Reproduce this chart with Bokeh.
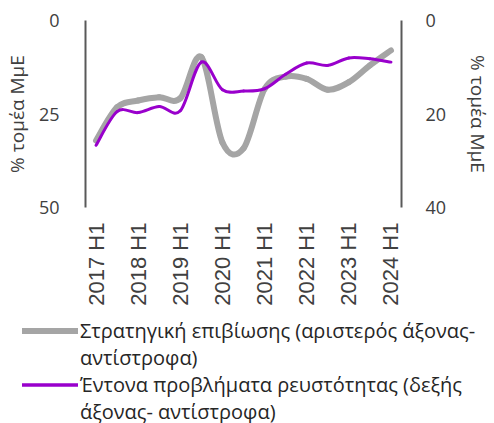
import numpy as np
from bokeh.plotting import figure
from bokeh.layouts import column
from bokeh.models import Range1d, LinearAxis, Legend, LegendItem, ColumnDataSource, FixedTicker
from bokeh.embed import file_html
from bokeh.resources import INLINE

periods = ["2017 H1", "2017 H2", "2018 H1", "2018 H2", "2019 H1", "2019 H2", "2020 H1", "2020 H2",
           "2021 H1", "2021 H2", "2022 H1", "2022 H2", "2023 H1", "2023 H2", "2024 H1"]
survival = [32.1, 23.2, 21.4, 20.5, 20.8, 9.8, 32.6, 34.2, 18.3, 15.0, 15.6, 18.5, 16.5, 12.0, 8.0]
liquidity = [26.7, 19.5, 19.7, 18.4, 19.3, 8.9, 14.8, 15.1, 14.6, 11.5, 9.1, 9.6, 8.0, 8.2, 8.9]
label_survival = ["Στρατηγική επιβίωσης (αριστερός άξονας-", "αντίστροφα)"]
label_liquidity = ["Έντονα προβλήματα ρευστότητας (δεξής", "άξονας- αντίστροφα)"]
axis_title = "% τομέα ΜμΕ"

FONT = "Open Sans"
gray = "#A5A5A5"
purple = "#9900CC"


def bezier_source(vals):
    x = np.arange(len(vals), dtype=float)
    y = np.array(vals, dtype=float)
    n = len(y)
    xp = np.concatenate([[x[0]], x, [x[-1]]])
    yp = np.concatenate([[y[0]], y, [y[-1]]])
    x0, y0, x1, y1 = x[:-1], y[:-1], x[1:], y[1:]
    cx0 = x0 + (xp[2:n + 1] - xp[0:n - 1]) / 6.0
    cy0 = y0 + (yp[2:n + 1] - yp[0:n - 1]) / 6.0
    cx1 = x1 - (xp[3:n + 2] - xp[1:n]) / 6.0
    cy1 = y1 - (yp[3:n + 2] - yp[1:n]) / 6.0
    return ColumnDataSource(dict(x0=x0, y0=y0, x1=x1, y1=y1, cx0=cx0, cy0=cy0, cx1=cx1, cy1=cy1))


p = figure(width=494, height=317, output_backend="svg", toolbar_location=None,
           x_range=Range1d(-0.5, len(periods) - 0.5), y_range=Range1d(50, 0),
           min_border_left=83, min_border_right=80, min_border_top=20, min_border_bottom=110)
p.frame_align = False
p.extra_y_ranges = {"right": Range1d(40, 0)}
p.outline_line_color = None
p.xgrid.visible = False
p.ygrid.visible = False
p.background_fill_color = None
p.border_fill_color = "white"

src_s = bezier_source(survival)
src_l = bezier_source(liquidity)
bz = dict(x0="x0", y0="y0", x1="x1", y1="y1", cx0="cx0", cy0="cy0", cx1="cx1", cy1="cy1")
p.bezier(source=src_s, line_color=gray, line_width=6, line_cap="round", **bz)
p.bezier(source=src_l, line_color=purple, line_width=3, line_cap="round",
         y_range_name="right", **bz)

# X axis
xa = p.xaxis[0]
xa.ticker = FixedTicker(ticks=list(range(0, len(periods), 2)))
xa.major_label_overrides = {i: periods[i] for i in range(0, len(periods), 2)}
xa.major_label_orientation = np.pi / 2
xa.axis_line_color = None
xa.major_tick_line_color = None
xa.minor_tick_line_color = None
xa.major_label_text_font = "Liberation Sans"
xa.major_label_text_font_size = "22px"
xa.major_label_text_color = "#404040"
xa.major_label_standoff = 9

# Left axis
ya = p.yaxis[0]
ya.ticker = FixedTicker(ticks=[0, 25, 50])
ya.axis_line_color = "#595959"
ya.axis_line_width = 2
ya.major_tick_line_color = None
ya.minor_tick_line_color = None
ya.major_label_text_font = FONT
ya.major_label_text_font_size = "18px"
ya.major_label_text_color = "#404040"
ya.major_label_standoff = 20
ya.axis_label = axis_title
ya.axis_label_text_font = FONT
ya.axis_label_text_font_size = "19px"
ya.axis_label_text_font_style = "normal"
ya.axis_label_text_color = "#404040"
ya.axis_label_standoff = 6

# Right axis
ra = LinearAxis(y_range_name="right", ticker=FixedTicker(ticks=[0, 20, 40]))
ra.axis_line_color = "#595959"
ra.axis_line_width = 2
ra.major_tick_line_color = None
ra.minor_tick_line_color = None
ra.major_label_text_font = FONT
ra.major_label_text_font_size = "18px"
ra.major_label_text_color = "#404040"
ra.major_label_standoff = 18
ra.axis_label = axis_title
ra.axis_label_text_font = FONT
ra.axis_label_text_font_size = "19px"
ra.axis_label_text_font_style = "normal"
ra.axis_label_text_color = "#404040"
ra.axis_label_standoff = 16
p.add_layout(ra, "right")

# Legend figure
lf = figure(width=494, height=106, output_backend="svg", toolbar_location=None,
            x_range=Range1d(100, 101), y_range=Range1d(0, 1),
            min_border_left=22, min_border_right=0, min_border_top=0, min_border_bottom=0)
lf.frame_align = False
lf.axis.visible = False
lf.grid.visible = False
lf.outline_line_color = None
lf.background_fill_color = None
lr1 = lf.bezier(source=src_s, line_color=gray, line_width=6, line_cap="round", **bz)
lr2 = lf.bezier(source=src_l, line_color=purple, line_width=3.5, line_cap="round", **bz)
lblank = lf.bezier(source=src_s, line_alpha=0, **bz)

legend = Legend(items=[LegendItem(label=label_survival[0], renderers=[lr1]),
                       LegendItem(label=label_survival[1], renderers=[lblank]),
                       LegendItem(label=label_liquidity[0], renderers=[lr2]),
                       LegendItem(label=label_liquidity[1], renderers=[lblank])],
                orientation="vertical", location="top_left")
legend.label_text_font = FONT
legend.label_text_font_size = "20px"
legend.label_text_color = "#262626"
legend.glyph_width = 56
legend.glyph_height = 25
legend.label_height = 25
legend.label_standoff = 2
legend.spacing = 0
legend.padding = 0
legend.margin = 0
legend.border_line_color = None
legend.background_fill_alpha = 0
lf.add_layout(legend, "center")

open("out.html", "w").write(file_html(column(p, lf, spacing=0), INLINE))
